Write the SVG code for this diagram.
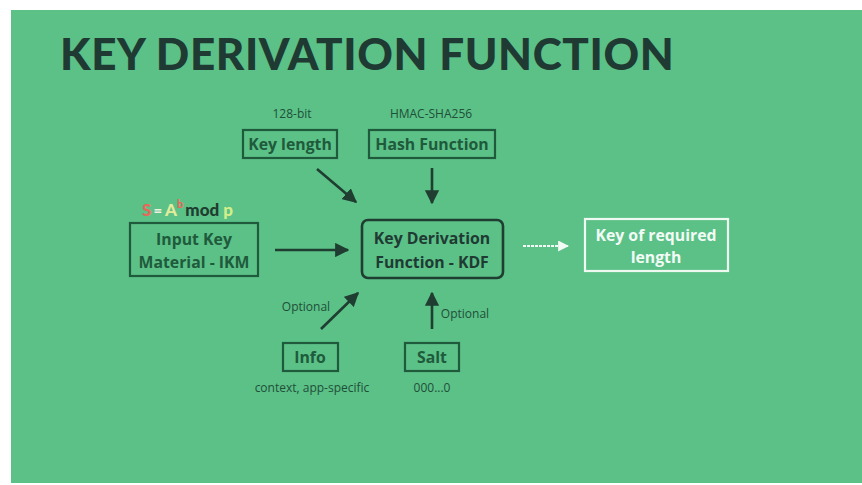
<svg xmlns="http://www.w3.org/2000/svg" width="862" height="485" viewBox="0 0 862 485">
<style>
.bx{fill:none;stroke:#1f5a3c;stroke-width:2.2}
.t{font-family:"Open Sans",Lato,sans-serif;font-weight:bold;font-size:15.8px;fill:#1f5a3c;text-anchor:middle}
.s{font-family:"Open Sans",Lato,sans-serif;font-size:12px;fill:#1f4f38;text-anchor:middle}
.ar{stroke:#1f3d30;stroke-width:2.6;fill:none}
</style>
<defs>
<marker id="ah" viewBox="0 0 10 10" refX="9" refY="5" markerWidth="5.5" markerHeight="5.5" orient="auto" markerUnits="strokeWidth"><path d="M0,0 L10,5 L0,10 z" fill="#1f3d30"/></marker>
<marker id="aw" viewBox="0 0 10 10" refX="9" refY="5" markerWidth="5.5" markerHeight="5.5" orient="auto" markerUnits="strokeWidth"><path d="M0,0 L10,5 L0,10 z" fill="#f2fbf5"/></marker>
</defs>
<rect x="0" y="0" width="862" height="485" fill="#ffffff"/>
<rect x="11" y="10" width="851" height="473" fill="#5bc187"/>
<text x="60" y="70" font-family="Lato,'Open Sans',sans-serif" font-weight="900" font-size="44" letter-spacing="0.6" fill="#1f3a33">KEY DERIVATION FUNCTION</text>

<g id="keylength">
<text class="s" x="292" y="118">128-bit</text>
<rect class="bx" x="243" y="130" width="94" height="28"/>
<text class="t" x="290" y="150">Key length</text>
</g>
<g id="hash">
<text class="s" x="431" y="118">HMAC-SHA256</text>
<rect class="bx" x="369" y="130" width="126" height="28"/>
<text class="t" x="432" y="150">Hash Function</text>
</g>
<g id="ikm">
<text x="142" y="216" font-family="Lato,'Open Sans',sans-serif" font-weight="900" font-size="17"><tspan fill="#e8685a">S</tspan><tspan fill="#f0f0e0" dx="2" font-size="15">=</tspan><tspan fill="#e4eb9c" dx="3">A</tspan><tspan fill="#e8685a" dy="-8" font-size="11">b</tspan><tspan fill="#1f3d30" dy="8" dx="2">mod</tspan><tspan fill="#d3ee8a" dx="4">p</tspan></text>
<rect class="bx" x="130" y="223" width="128" height="53"/>
<text class="t" x="194" y="245">Input Key</text>
<text class="t" x="194" y="268">Material - IKM</text>
</g>
<g id="kdf">
<rect x="362" y="220" width="141" height="58" rx="6" fill="none" stroke="#1f3d30" stroke-width="2.6"/>
<text class="t" x="432" y="244" style="fill:#1f3a33">Key Derivation</text>
<text class="t" x="432" y="268" style="fill:#1f3a33">Function - KDF</text>
</g>
<g id="output">
<rect x="585" y="219" width="143" height="52" fill="none" stroke="#eef9f1" stroke-width="2.2"/>
<text class="t" x="656" y="241" style="fill:#f2fbf5">Key of required</text>
<text class="t" x="656" y="263" style="fill:#f2fbf5">length</text>
</g>
<g id="info">
<text class="s" x="306" y="311">Optional</text>
<rect class="bx" x="283" y="343" width="55" height="28"/>
<text class="t" x="310" y="363">Info</text>
<text class="s" x="312" y="392">context, app-specific</text>
</g>
<g id="salt">
<text class="s" x="465" y="318">Optional</text>
<rect class="bx" x="405" y="343" width="54" height="28"/>
<text class="t" x="432" y="363">Salt</text>
<text class="s" x="432" y="392">000...0</text>
</g>
<g id="connectors">
<line class="ar" x1="317" y1="169" x2="356" y2="202" marker-end="url(#ah)"/>
<line class="ar" x1="432" y1="168" x2="432" y2="203" marker-end="url(#ah)"/>
<line class="ar" x1="275" y1="250" x2="348" y2="250" marker-end="url(#ah)"/>
<line class="ar" x1="321" y1="329" x2="358" y2="293" marker-end="url(#ah)"/>
<line class="ar" x1="432" y1="329" x2="432" y2="293" marker-end="url(#ah)"/>
<line x1="523" y1="246" x2="568" y2="246" stroke="#f2fbf5" stroke-width="2" stroke-dasharray="3 1" marker-end="url(#aw)"/>
</g>
</svg>
